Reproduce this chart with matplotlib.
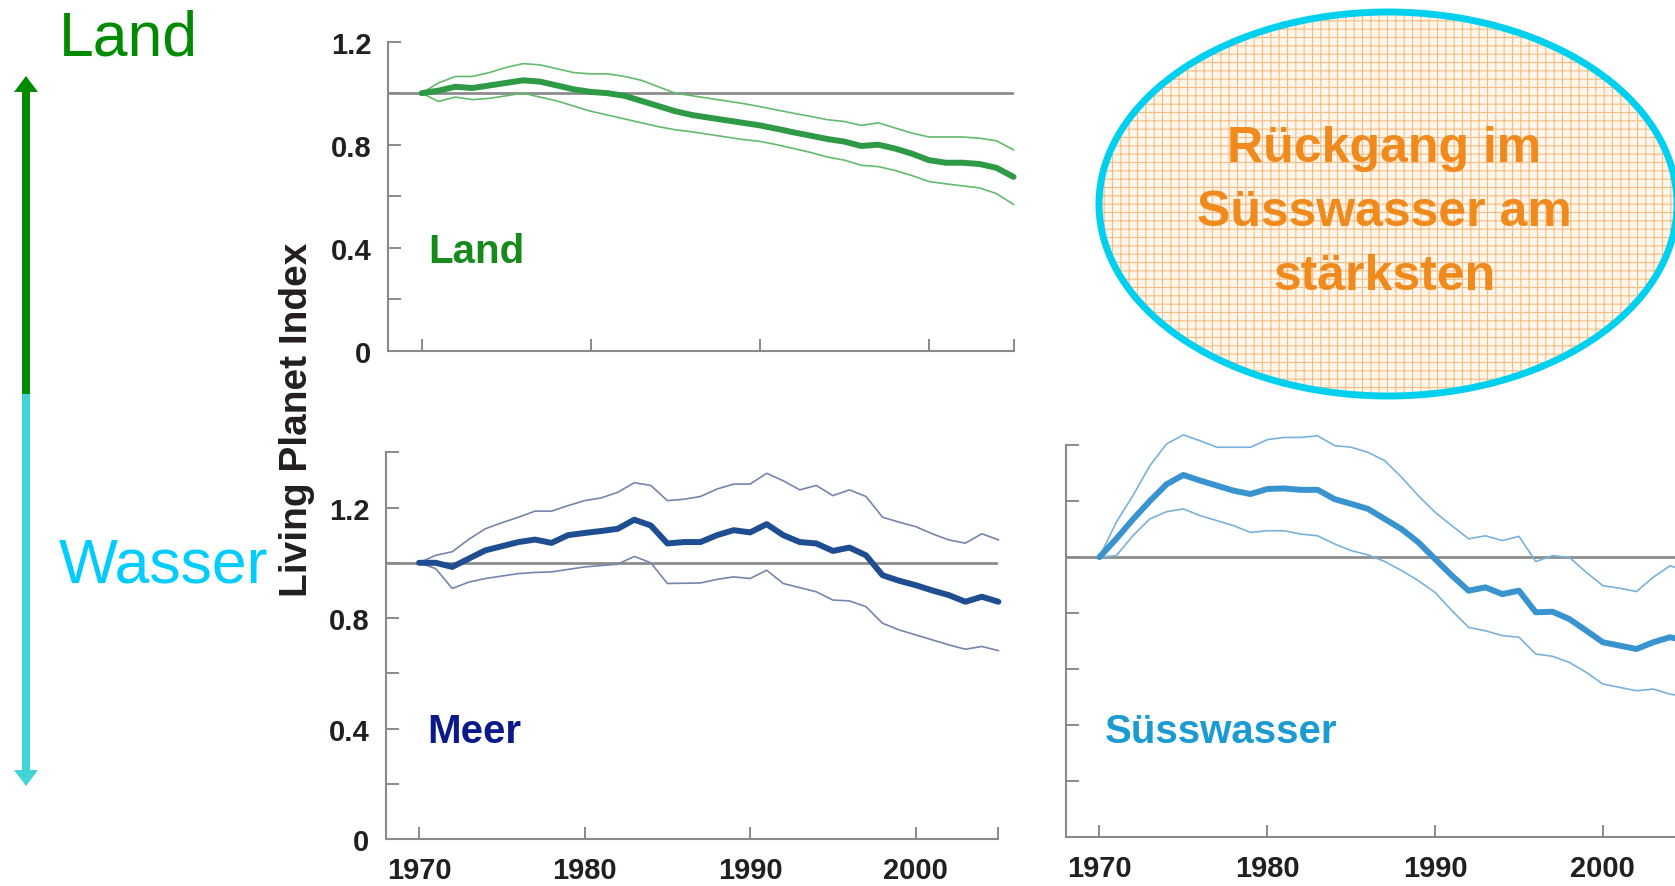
'''Living Planet Index: Land, Meer und Suesswasser, 1970-2005.'''

import numpy as np
import matplotlib
matplotlib.use('Agg')
import matplotlib.pyplot as plt
from matplotlib.patches import Ellipse, FancyArrow

plt.rcParams['font.family'] = ['Liberation Sans', 'DejaVu Sans']
plt.rcParams['hatch.linewidth'] = 0.8

years = np.arange(1970, 2006)

land_mid = [1.00, 1.01, 1.025, 1.02, 1.03, 1.04, 1.05, 1.045, 1.03, 1.015, 1.005, 1.0,
            0.99, 0.97, 0.95, 0.93, 0.915, 0.905, 0.895, 0.885, 0.875, 0.862, 0.848, 0.835,
            0.822, 0.812, 0.795, 0.80, 0.785, 0.765, 0.74, 0.73, 0.73, 0.725, 0.71, 0.675]
land_hi = [1.00, 1.04, 1.065, 1.065, 1.08, 1.10, 1.115, 1.11, 1.095, 1.08, 1.075, 1.075,
           1.065, 1.05, 1.025, 1.0, 0.99, 0.98, 0.97, 0.96, 0.948, 0.935, 0.922, 0.91,
           0.897, 0.89, 0.875, 0.885, 0.865, 0.845, 0.83, 0.83, 0.83, 0.825, 0.815, 0.78]
land_lo = [1.00, 0.968, 0.985, 0.975, 0.98, 0.99, 1.0, 0.985, 0.97, 0.95, 0.93, 0.915,
           0.90, 0.885, 0.87, 0.858, 0.85, 0.84, 0.83, 0.82, 0.813, 0.80, 0.785, 0.77,
           0.752, 0.74, 0.72, 0.715, 0.70, 0.68, 0.657, 0.648, 0.64, 0.632, 0.61, 0.568]

meer_mid = [1.0, 1.0, 0.985, 1.015, 1.045, 1.06, 1.075, 1.084, 1.072, 1.1, 1.108, 1.115,
            1.123, 1.156, 1.135, 1.07, 1.075, 1.075, 1.1, 1.118, 1.11, 1.14, 1.1, 1.075,
            1.07, 1.043, 1.055, 1.027, 0.955, 0.935, 0.919, 0.9, 0.883, 0.859, 0.877, 0.859]
meer_hi = [1.0, 1.027, 1.04, 1.085, 1.123, 1.145, 1.165, 1.187, 1.187, 1.207, 1.225, 1.235,
           1.255, 1.29, 1.28, 1.225, 1.23, 1.24, 1.267, 1.285, 1.285, 1.324, 1.297, 1.264,
           1.28, 1.243, 1.264, 1.24, 1.165, 1.147, 1.131, 1.105, 1.083, 1.071, 1.105, 1.083]
meer_lo = [1.0, 0.979, 0.907, 0.93, 0.943, 0.952, 0.961, 0.965, 0.967, 0.976, 0.985, 0.99,
           0.995, 1.023, 1.0, 0.925, 0.926, 0.927, 0.94, 0.949, 0.943, 0.973, 0.925, 0.91,
           0.895, 0.865, 0.862, 0.841, 0.781, 0.757, 0.739, 0.721, 0.703, 0.687, 0.697, 0.682]

suess_mid = [1.0, 1.065, 1.135, 1.2, 1.26, 1.293, 1.273, 1.255, 1.237, 1.225, 1.243, 1.245,
             1.24, 1.24, 1.207, 1.19, 1.172, 1.136, 1.1, 1.053, 0.993, 0.934, 0.88, 0.892,
             0.868, 0.88, 0.803, 0.805, 0.779, 0.738, 0.696, 0.684, 0.672, 0.696, 0.714, 0.70]
suess_hi = [1.0, 1.124, 1.22, 1.326, 1.404, 1.436, 1.415, 1.392, 1.392, 1.392, 1.419, 1.427,
            1.427, 1.433, 1.398, 1.392, 1.374, 1.344, 1.285, 1.219, 1.16, 1.112, 1.065, 1.076,
            1.059, 1.074, 0.984, 1.005, 0.999, 0.946, 0.898, 0.889, 0.877, 0.928, 0.969, 0.95]
suess_lo = [1.0, 1.005, 1.077, 1.136, 1.162, 1.172, 1.148, 1.13, 1.112, 1.088, 1.094, 1.094,
            1.082, 1.076, 1.047, 1.023, 1.008, 0.984, 0.952, 0.916, 0.874, 0.809, 0.749, 0.737,
            0.72, 0.714, 0.654, 0.646, 0.624, 0.589, 0.547, 0.535, 0.523, 0.529, 0.511, 0.50]

x_ticks = [1970, 1980, 1990, 2000, 2005]
x_labels = ['1970', '1980', '1990', '2000', '']
y_label_vals = {0: '0', 0.4: '0.4', 0.8: '0.8', 1.2: '1.2'}

W, H = 1675, 887
AXIS_GREY = '#8a8a8a'
TEXT_DARK = '#231f20'


def px_rect(left, top, right, bottom):
    # pixel box -> figure fraction rect
    return [left / W, 1 - bottom / H, (right - left) / W, (bottom - top) / H]


def style_panel(ax, ymax, show_x, show_y):
    ax.set_xlim(1968, 2005)
    ax.set_ylim(0, ymax)
    for s in ['top', 'right']:
        ax.spines[s].set_visible(False)
    for s in ['left', 'bottom']:
        ax.spines[s].set_color(AXIS_GREY)
        ax.spines[s].set_linewidth(1.5)
    ax.axhline(1.0, color='#8c8c8c', lw=2.0, zorder=1)
    ax.set_xticks(x_ticks)
    ax.set_xticklabels(x_labels if show_x else [''] * len(x_ticks))
    yt = np.round(np.arange(0, ymax + 0.01, 0.2), 1)
    ax.set_yticks(yt)
    ax.set_yticklabels([y_label_vals.get(v, '') if show_y else '' for v in yt])
    ax.tick_params(direction='in', length=9, width=1.4, color=AXIS_GREY,
                   labelsize=21, labelcolor=TEXT_DARK)
    ax.tick_params(axis='y', pad=12)
    ax.tick_params(axis='x', pad=12)
    for lab in ax.get_xticklabels() + ax.get_yticklabels():
        lab.set_fontweight('bold')


def draw_series(ax, mid, hi, lo, c_mid, c_band):
    ax.plot(years, hi, color=c_band, lw=1.2, clip_on=False, zorder=2)
    ax.plot(years, lo, color=c_band, lw=1.2, clip_on=False, zorder=2)
    ax.plot(years, mid, color=c_mid, lw=4.3, clip_on=False, zorder=3,
            solid_capstyle='round', solid_joinstyle='round')


def main():
    fig = plt.figure(figsize=(W / 100, H / 100), dpi=100)

    # Land panel
    ax_land = fig.add_axes(px_rect(387.8, 42.7, 1013.5, 351.7))
    style_panel(ax_land, 1.2, show_x=False, show_y=True)
    draw_series(ax_land, land_mid, land_hi, land_lo, '#2f9a45', '#62bb6e')
    ax_land.text(1970.4, 0.345, 'Land', color='#178a1c', fontsize=29,
                 fontweight='bold', va='baseline')

    # Meer panel
    ax_meer = fig.add_axes(px_rect(386.0, 453.3, 998.4, 840.0))
    style_panel(ax_meer, 1.4, show_x=True, show_y=True)
    draw_series(ax_meer, meer_mid, meer_hi, meer_lo, '#1f4d92', '#7585ab')
    ax_meer.text(1970.5, 0.351, 'Meer', color='#0b1a8a', fontsize=29,
                 fontweight='bold', va='baseline')

    # Suesswasser panel (cut by the right edge)
    ax_suess = fig.add_axes(px_rect(1065.9, 446.0, 1686.8, 838.3))
    style_panel(ax_suess, 1.4, show_x=True, show_y=False)
    draw_series(ax_suess, suess_mid, suess_hi, suess_lo, '#3993cf', '#78b2dc')
    ax_suess.text(1970.3, 0.34, 'Süsswasser', color='#1b9bd2', fontsize=29,
                  fontweight='bold', va='baseline')

    fig.text(297 / W, 1 - 420 / H, 'Living Planet Index', rotation=90,
             ha='center', va='center', fontsize=28, fontweight='bold', color=TEXT_DARK)

    # overlay in pixel coordinates for the decorations
    ov = fig.add_axes([0, 0, 1, 1])
    ov.set_xlim(0, W)
    ov.set_ylim(H, 0)
    ov.axis('off')

    ov.add_patch(FancyArrow(26, 395, 0, -318, width=8, head_width=24, head_length=16,
                            length_includes_head=True, color='#008a00', lw=0))
    ov.add_patch(FancyArrow(26, 395, 0, 392, width=8, head_width=24, head_length=16,
                            length_includes_head=True, color='#3fd4d8', lw=0))
    ov.text(59, 55, 'Land', color='#008a00', fontsize=45, va='baseline', ha='left')
    ov.text(59, 583, 'Wasser', color='#00ccff', fontsize=45, va='baseline', ha='left')

    ov.add_patch(Ellipse((1388, 205), 578, 384, facecolor='#fff6ec', edgecolor='#f8bb80',
                         hatch='++', lw=0))
    ov.add_patch(Ellipse((1388, 205), 578, 384, facecolor='none', edgecolor='#00d0f0',
                         lw=5))
    ov.text(1384, 213, 'Rückgang im\nSüsswasser am\nstärksten', ha='center', va='center',
            fontsize=36, fontweight='bold', color='#f08a1c', linespacing=1.5)

    fig.savefig('out.png', dpi=100, facecolor='white')


if __name__ == '__main__':
    main()
